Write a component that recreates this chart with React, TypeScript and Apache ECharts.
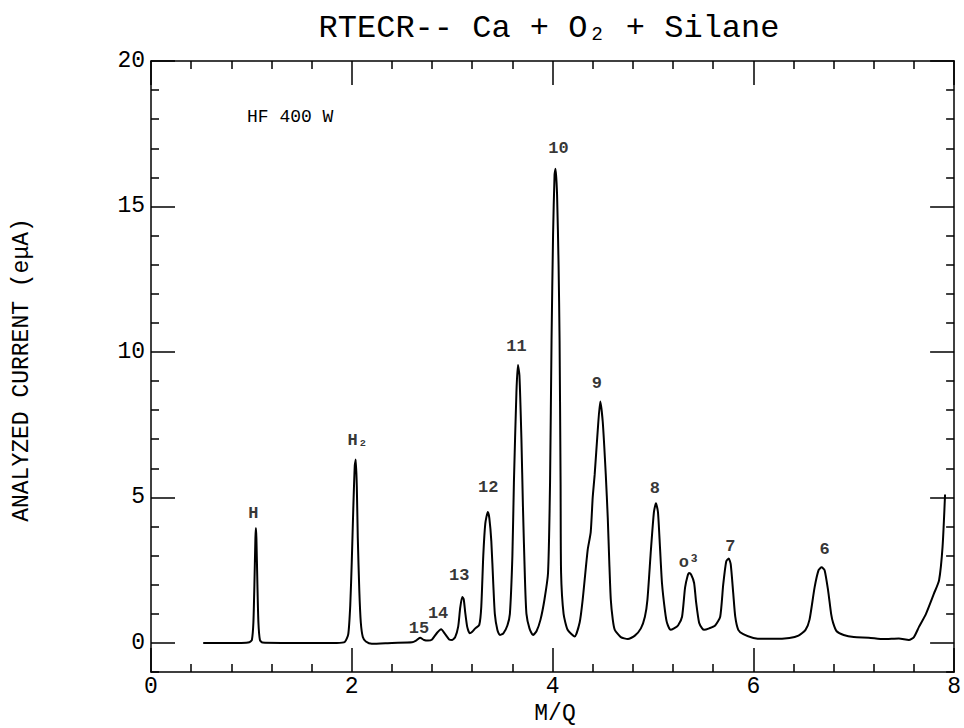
import React, { useEffect, useRef } from "react";
import * as echarts from "echarts";

// Spectrum trace (M/Q, analyzed current in eμA)
const traceX = [
  0.52, 0.7, 0.9, 0.98, 1.005, 1.02, 1.03, 1.04, 1.045, 1.05, 1.06, 1.07, 1.085, 1.11, 1.3, 1.6,
  1.85, 1.93, 1.965, 1.985, 2.0, 2.015, 2.03, 2.04, 2.05, 2.06, 2.075, 2.09, 2.11, 2.14, 2.2, 2.4,
  2.6, 2.64, 2.68, 2.72, 2.76, 2.8, 2.85, 2.89, 2.93, 2.97, 3.0, 3.03, 3.06, 3.08, 3.1, 3.115,
  3.13, 3.15, 3.175, 3.2, 3.23, 3.27, 3.29, 3.31, 3.33, 3.355, 3.37, 3.39, 3.41, 3.425, 3.45, 3.475,
  3.51, 3.55, 3.575, 3.6, 3.615, 3.64, 3.655, 3.67, 3.69, 3.705, 3.725, 3.74, 3.77, 3.805, 3.84, 3.88,
  3.92, 3.955, 3.975, 3.99, 4.005, 4.02, 4.03, 4.045, 4.06, 4.07, 4.08, 4.085, 4.11, 4.15, 4.22, 4.27,
  4.3, 4.35, 4.38, 4.4, 4.42, 4.45, 4.475, 4.5, 4.53, 4.55, 4.565, 4.58, 4.6, 4.62, 4.68, 4.75,
  4.82, 4.88, 4.92, 4.945, 4.98, 5.01, 5.03, 5.05, 5.07, 5.09, 5.12, 5.14, 5.175, 5.21, 5.25, 5.29,
  5.32, 5.345, 5.36, 5.38, 5.41, 5.43, 5.46, 5.49, 5.51, 5.56, 5.62, 5.67, 5.7, 5.73, 5.755, 5.775,
  5.8, 5.82, 5.85, 5.9, 6.0, 6.1, 6.2, 6.36, 6.45, 6.52, 6.56, 6.61, 6.65, 6.68, 6.71, 6.745,
  6.775, 6.795, 6.83, 6.9, 7.0, 7.15, 7.3, 7.45, 7.55, 7.6, 7.65, 7.72, 7.8, 7.85, 7.885, 7.91,
];
const traceY = [
  0, 0, 0, 0.02, 0.1, 0.7, 2.0, 3.6, 3.95, 3.6, 2.0, 0.7, 0.1, 0.01, 0, 0,
  0, 0.03, 0.3, 1.3, 2.8, 4.6, 6.1, 6.3, 5.4, 3.6, 1.8, 0.7, 0.2, 0.05, -0.03, 0,
  0.02, 0.08, 0.18, 0.1, 0.08, 0.12, 0.35, 0.47, 0.3, 0.12, 0.1, 0.2, 0.56, 1.2, 1.58, 1.5,
  1.05, 0.55, 0.33, 0.38, 0.5, 0.62, 1.24, 3.0, 4.1, 4.5, 4.3, 3.5, 2.0, 1.0, 0.45, 0.27,
  0.33, 0.6, 1.0, 3.0, 5.5, 8.6, 9.55, 9.2, 7.0, 4.7, 2.2, 1.0, 0.5, 0.27, 0.4, 0.8,
  1.5, 2.4, 5.5, 10.4, 14.0, 16.1, 16.3, 15.4, 13.0, 10.4, 5.5, 2.4, 1.0, 0.45, 0.22, 0.7,
  1.48, 3.2, 3.8, 5.0, 5.8, 7.3, 8.3, 7.6, 5.8, 4.3, 2.8, 1.5, 0.8, 0.45, 0.2, 0.13,
  0.25, 0.5, 0.9, 1.48, 3.2, 4.5, 4.8, 4.5, 3.3, 2.06, 1.1, 0.69, 0.45, 0.5, 0.6, 0.9,
  1.9, 2.3, 2.4, 2.35, 2.06, 1.4, 0.69, 0.5, 0.45, 0.5, 0.6, 0.9, 2.0, 2.8, 2.9, 2.7,
  1.7, 0.9, 0.45, 0.3, 0.17, 0.14, 0.14, 0.17, 0.25, 0.45, 0.8, 1.9, 2.5, 2.6, 2.5, 1.8,
  1.0, 0.69, 0.4, 0.27, 0.2, 0.18, 0.13, 0.15, 0.1, 0.2, 0.55, 1.0, 1.7, 2.15, 3.3, 5.1,
];

// Peak annotations (text and data position of the text)
const peakNames = ["H", "H₂", "15", "14", "13", "12", "11", "10", "9", "8", "o³", "7", "6"];
const peakLabelX = [1.02, 2.06, 2.67, 2.86, 3.07, 3.36, 3.64, 4.06, 4.44, 5.02, 5.36, 5.77, 6.71];
const peakLabelY = [4.45, 6.94, 0.5, 1.0, 2.3, 5.35, 10.2, 17.0, 8.9, 5.3, 2.75, 3.3, 3.2];

// Axis ticks
const xMajorTicks = [0, 2, 4, 6, 8];
const xMinorTicks = [0.4, 0.8, 1.2, 1.6, 2.4, 2.8, 3.2, 3.6, 4.4, 4.8, 5.2, 5.6, 6.4, 6.8, 7.2, 7.6];
const yMajorTicks = [0, 5, 10, 15, 20];
const yMinorTicks = [-1, 1, 2, 3, 4, 6, 7, 8, 9, 11, 12, 13, 14, 16, 17, 18, 19];

const FONT = "Liberation Mono";

export default function App() {
  const ref = useRef<HTMLDivElement>(null);

  useEffect(() => {
    if (!ref.current) return;
    const chart = echarts.init(ref.current, undefined, { renderer: "svg" });

    const lineStyle = { color: "#000", width: 1.5 };
    const xBase = { type: "value", min: 0, max: 8, splitLine: { show: false } };
    const yBase = { type: "value", min: -1, max: 20, splitLine: { show: false } };

    const mkX = (position: string, ticks: number[], len: number, main: boolean, labels: boolean) => ({
      ...xBase,
      position,
      axisLine: { show: main, onZero: false, lineStyle },
      axisTick: { show: true, inside: true, length: len, customValues: ticks, lineStyle },
      axisLabel: labels
        ? {
            show: true,
            customValues: xMajorTicks,
            margin: 5,
            color: "#000",
            fontFamily: FONT,
            fontSize: 23,
            lineHeight: 20,
          }
        : { show: false },
    });
    const mkY = (position: string, ticks: number[], len: number, main: boolean, labels: boolean) => ({
      ...yBase,
      position,
      axisLine: { show: main, onZero: false, lineStyle },
      axisTick: { show: true, inside: true, length: len, customValues: ticks, lineStyle },
      axisLabel: labels
        ? { show: true, customValues: yMajorTicks, margin: 6, color: "#000", fontFamily: FONT, fontSize: 23 }
        : { show: false },
    });

    const trace = traceX.map((x, i) => [x, traceY[i]]);
    const peaks = peakNames.map((n, i) => ({ name: n, value: [peakLabelX[i], peakLabelY[i]] }));

    chart.setOption({
      animation: false,
      backgroundColor: "#fff",
      grid: { left: 151, right: 6, top: 61, bottom: 56, containLabel: false },
      xAxis: [
        mkX("bottom", xMajorTicks, 24, true, true),
        mkX("bottom", xMinorTicks, 8, false, false),
        mkX("top", xMajorTicks, 24, true, false),
        mkX("top", xMinorTicks, 8, false, false),
      ],
      yAxis: [
        mkY("left", yMajorTicks, 24, true, true),
        mkY("left", yMinorTicks, 8, false, false),
        mkY("right", yMajorTicks, 24, true, false),
        mkY("right", yMinorTicks, 8, false, false),
      ],
      series: [
        {
          type: "line",
          data: trace,
          xAxisIndex: 0,
          yAxisIndex: 0,
          showSymbol: false,
          symbol: "none",
          smooth: 0.2,
          lineStyle: { color: "#000", width: 2 },
        },
        {
          type: "scatter",
          data: peaks,
          xAxisIndex: 0,
          yAxisIndex: 0,
          symbolSize: 1,
          itemStyle: { color: "rgba(0,0,0,0)" },
          label: {
            show: true,
            position: "inside",
            formatter: "{b}",
            color: "#000",
            fontFamily: FONT,
            fontSize: 17,
            fontWeight: "bold",
          },
        },
      ],
      graphic: [
        {
          type: "text",
          x: 549,
          y: 28,
          style: {
            text: "RTECR-- Ca + O₂ + Silane",
            fontFamily: FONT,
            fontSize: 32,
            fill: "#000",
            align: "center",
            verticalAlign: "middle",
          },
        },
        {
          type: "text",
          x: 22,
          y: 370,
          rotation: Math.PI / 2,
          style: {
            text: "ANALYZED CURRENT (eμA)",
            fontFamily: FONT,
            fontSize: 23,
            fill: "#000",
            align: "center",
            verticalAlign: "middle",
          },
        },
        {
          type: "text",
          x: 555,
          y: 714,
          style: {
            text: "M/Q",
            fontFamily: FONT,
            fontSize: 23,
            lineHeight: 20,
            fill: "#000",
            align: "center",
            verticalAlign: "middle",
          },
        },
        {
          type: "text",
          x: 247,
          y: 117,
          style: {
            text: "HF 400 W",
            fontFamily: FONT,
            fontSize: 18,
            fill: "#000",
            align: "left",
            verticalAlign: "middle",
          },
        },
      ],
    });

    return () => chart.dispose();
  }, []);

  return (
    <div
      ref={ref}
      style={{ position: "fixed", left: 0, top: 0, width: 964, height: 728, background: "#fff" }}
    />
  );
}
